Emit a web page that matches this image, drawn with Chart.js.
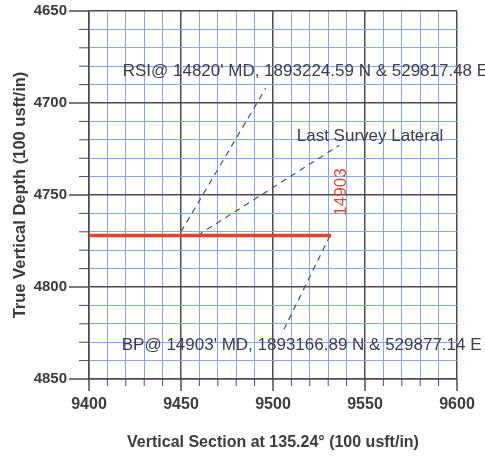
<!DOCTYPE html>
<html>
<head>
<meta charset="utf-8">
<script src="https://cdn.jsdelivr.net/npm/chart.js@4.4.1/dist/chart.umd.min.js"></script>
<style>
  html, body { margin: 0; padding: 0; background: #fff; }
  #wrap { width: 485px; height: 456px; }
</style>
</head>
<body>
<div id="wrap"><canvas id="plot" width="485" height="456"></canvas></div>
<script>
// lateral section (vertical section vs TVD)
const lateralX = [9400, 9531.5];
const lateralY = [4772, 4772];

// leader lines from labels to the well path
const rsiLeaderX = [9450, 9496];
const rsiLeaderY = [4770, 4692];
const surveyLeaderX = [9459, 9536];
const surveyLeaderY = [4772, 4723];
const bpLeaderX = [9531, 9506];
const bpLeaderY = [4772, 4823];

const xTicksMin = 9400, xTicksMax = 9600;
const yTicksMin = 4650, yTicksMax = 4850;

const notes = [
  { text: "RSI@ 14820' MD, 1893224.59 N & 529817.48 E", x: 9418.3, y: 4683 },
  { text: 'Last Survey Lateral', x: 9512.9, y: 4718 },
  { text: "BP@ 14903' MD, 1893166.89 N & 529877.14 E", x: 9417.8, y: 4831.5 },
];
const depthTag = { text: '14903', x: 9537.3, y: 4748.4 };

const MAJOR = '#4b4b55';
const MINOR = '#86a6ea';
const INK = '#3b3e4a';

function zip(xs, ys) {
  return xs.map((x, i) => ({ x: x, y: ys[i] }));
}

function leader(xs, ys) {
  return {
    data: zip(xs, ys),
    showLine: true,
    borderColor: '#4c5262',
    borderWidth: 1.2,
    borderDash: [6, 5],
    pointRadius: 0
  };
}

const isMajor = (ctx) => ctx.tick && Math.round(ctx.tick.value) % 50 === 0;

// short minor / long major tick marks, and the text notes
const decorations = {
  id: 'decorations',
  afterDraw(chart) {
    const { ctx, scales } = chart;
    const xs = scales.x, ys = scales.y;
    const area = chart.chartArea;
    ctx.save();
    ctx.strokeStyle = MAJOR;
    xs.ticks.forEach(t => {
      const px = xs.getPixelForValue(t.value);
      const len = Math.round(t.value) % 50 === 0 ? 12 : 7;
      ctx.lineWidth = Math.round(t.value) % 50 === 0 ? 1.5 : 1;
      ctx.beginPath();
      ctx.moveTo(px, area.bottom);
      ctx.lineTo(px, area.bottom + len);
      ctx.stroke();
    });
    ys.ticks.forEach(t => {
      const py = ys.getPixelForValue(t.value);
      const len = Math.round(t.value) % 50 === 0 ? 20 : 10;
      ctx.lineWidth = Math.round(t.value) % 50 === 0 ? 1.5 : 1;
      ctx.beginPath();
      ctx.moveTo(area.left, py);
      ctx.lineTo(area.left - len, py);
      ctx.stroke();
    });

    ctx.font = '17px "Liberation Sans", Arial, sans-serif';
    ctx.fillStyle = INK;
    ctx.textAlign = 'left';
    ctx.textBaseline = 'middle';
    notes.forEach(n => {
      ctx.fillText(n.text, xs.getPixelForValue(n.x), ys.getPixelForValue(n.y));
    });

    ctx.translate(xs.getPixelForValue(depthTag.x), ys.getPixelForValue(depthTag.y));
    ctx.rotate(-Math.PI / 2);
    ctx.textAlign = 'center';
    ctx.fillStyle = '#e5483a';
    ctx.fillText(depthTag.text, 0, 0);
    ctx.restore();
  }
};

const tickFont = { family: '"Liberation Sans", Arial, sans-serif', weight: 'bold' };

new Chart(document.getElementById('plot'), {
  type: 'scatter',
  data: {
    datasets: [
      {
        data: zip(lateralX, lateralY),
        showLine: true,
        borderColor: '#e8432a',
        borderWidth: 3.5,
        pointRadius: 0
      },
      leader(rsiLeaderX, rsiLeaderY),
      leader(surveyLeaderX, surveyLeaderY),
      leader(bpLeaderX, bpLeaderY)
    ]
  },
  options: {
    responsive: false,
    animation: false,
    layout: { autoPadding: false, padding: { top: 11, right: 28, left: 0, bottom: 0 } },
    plugins: { legend: { display: false }, tooltip: { enabled: false } },
    scales: {
      x: {
        type: 'linear',
        min: xTicksMin,
        max: xTicksMax,
        afterFit(scale) {
          scale.height = 77;
          scale.paddingLeft = 0;
          scale.paddingRight = 0;
        },
        ticks: {
          stepSize: 10,
          autoSkip: false,
          maxRotation: 0,
          padding: 16,
          color: '#3b3b3b',
          font: { ...tickFont, size: 16 },
          callback: (v) => (Math.round(v) % 50 === 0 ? String(v) : '')
        },
        grid: {
          drawTicks: false,
          color: (ctx) => (isMajor(ctx) ? MAJOR : MINOR),
          lineWidth: (ctx) => (isMajor(ctx) ? 1.5 : 1)
        },
        border: { color: MAJOR, width: 1.5 },
        title: {
          display: true,
          text: 'Vertical Section at 135.24° (100 usft/in)',
          color: '#3b3b3b',
          font: { ...tickFont, size: 16 },
          padding: { top: 0, bottom: 4 }
        }
      },
      y: {
        type: 'linear',
        reverse: true,
        min: yTicksMin,
        max: yTicksMax,
        afterFit(scale) {
          scale.width = 89;
          scale.paddingTop = 0;
          scale.paddingBottom = 0;
        },
        ticks: {
          stepSize: 10,
          autoSkip: false,
          padding: 22,
          color: '#3b3b3b',
          font: { ...tickFont, size: 15 },
          callback: (v) => (Math.round(v) % 50 === 0 ? String(v) : '')
        },
        grid: {
          drawTicks: false,
          color: (ctx) => (isMajor(ctx) ? MAJOR : MINOR),
          lineWidth: (ctx) => (isMajor(ctx) ? 1.5 : 1)
        },
        border: { color: MAJOR, width: 1.5 },
        title: {
          display: true,
          text: 'True Vertical Depth (100 usft/in)',
          color: '#3b3b3b',
          font: { ...tickFont, size: 16.5 },
          padding: { top: 11, bottom: 0 }
        }
      }
    }
  },
  plugins: [decorations]
});
</script>
</body>
</html>
